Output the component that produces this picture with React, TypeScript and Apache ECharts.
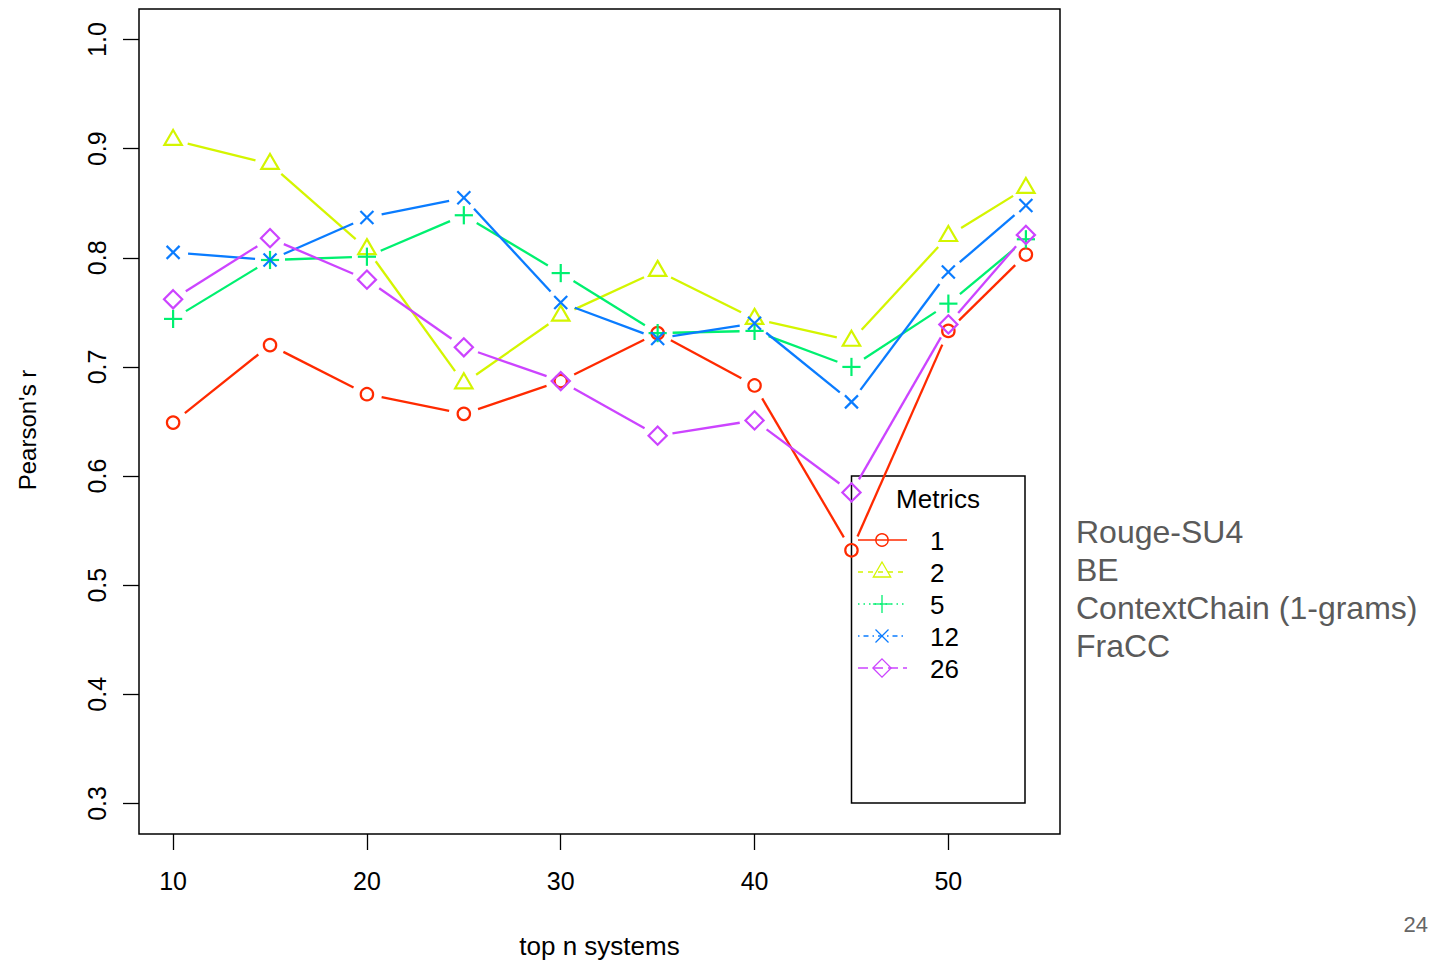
import React, { useEffect, useRef } from "react";
import * as echarts from "echarts";

const xValues = [10, 15, 20, 25, 30, 35, 40, 45, 50, 54];
const metricNames = ["1", "2", "5", "12", "26"];
const m1 = [0.649, 0.72, 0.675, 0.657, 0.687, 0.731, 0.683, 0.532, 0.733, 0.803];
const m2 = [0.908, 0.886, 0.808, 0.685, 0.747, 0.788, 0.744, 0.724, 0.82, 0.864];
const m5 = [0.744, 0.798, 0.801, 0.839, 0.786, 0.731, 0.733, 0.7, 0.758, 0.817];
const m12 = [0.805, 0.798, 0.837, 0.855, 0.759, 0.726, 0.74, 0.668, 0.787, 0.848];
const m26 = [0.762, 0.818, 0.78, 0.718, 0.687, 0.637, 0.651, 0.585, 0.739, 0.821];
const xTicks = [10, 20, 30, 40, 50];
const yTicks = [0.3, 0.4, 0.5, 0.6, 0.7, 0.8, 0.9, 1.0];
const sideLabels = ["Rouge-SU4", "BE", "ContextChain (1-grams)", "FraCC"];
const xTitle = "top n systems";
const yTitle = "Pearson's r";
const legendTitle = "Metrics";
const pageNumber = "24";

const seriesValues = [m1, m2, m5, m12, m26];
const colors = ["#FF2A00", "#D4F500", "#00F070", "#0A7CFF", "#CC44FF"];
const shapes = ["circle", "triangle", "plus", "cross", "diamond"];
const legendDash: (number[] | null)[] = [null, [5, 5], [1.5, 4], [1.5, 4, 5, 4], [10, 5]];

const FONT = "'Liberation Sans', Arial, Helvetica, sans-serif";

function symbolEls(shape: string, cx: number, cy: number, color: string, lw: number): any[] {
  const style = { stroke: color, fill: "none", lineWidth: lw };
  switch (shape) {
    case "circle":
      return [{ type: "circle", shape: { cx, cy, r: 6.2 }, style }];
    case "triangle":
      return [
        {
          type: "polygon",
          shape: { points: [[cx, cy - 10], [cx + 8.7, cy + 5], [cx - 8.7, cy + 5]] },
          style,
        },
      ];
    case "plus":
      return [
        { type: "line", shape: { x1: cx - 9.1, y1: cy, x2: cx + 9.1, y2: cy }, style },
        { type: "line", shape: { x1: cx, y1: cy - 9.1, x2: cx, y2: cy + 9.1 }, style },
      ];
    case "cross":
      return [
        { type: "line", shape: { x1: cx - 6.5, y1: cy - 6.5, x2: cx + 6.5, y2: cy + 6.5 }, style },
        { type: "line", shape: { x1: cx - 6.5, y1: cy + 6.5, x2: cx + 6.5, y2: cy - 6.5 }, style },
      ];
    default:
      return [
        {
          type: "polygon",
          shape: { points: [[cx, cy - 9.1], [cx + 9.1, cy], [cx, cy + 9.1], [cx - 9.1, cy]] },
          style,
        },
      ];
  }
}

const GAP = 15;

function makeSeries(idx: number) {
  const ys = seriesValues[idx];
  const color = colors[idx];
  const shape = shapes[idx];
  const n = xValues.length;
  const data = xValues.map((x, i) => [
    x,
    ys[i],
    i + 1 < n ? xValues[i + 1] : x,
    i + 1 < n ? ys[i + 1] : ys[i],
  ]);
  return {
    type: "custom",
    name: metricNames[idx],
    data,
    dimensions: ["x", "y", "nx", "ny"],
    encode: { x: 0, y: 1 },
    clip: false,
    renderItem: (params: any, api: any) => {
      const p = api.coord([api.value(0), api.value(1)]);
      const q = api.coord([api.value(2), api.value(3)]);
      const children: any[] = [];
      const dx = q[0] - p[0];
      const dy = q[1] - p[1];
      const len = Math.sqrt(dx * dx + dy * dy);
      if (len > 2 * GAP + 1) {
        const ux = dx / len;
        const uy = dy / len;
        children.push({
          type: "line",
          shape: {
            x1: p[0] + ux * GAP,
            y1: p[1] + uy * GAP,
            x2: q[0] - ux * GAP,
            y2: q[1] - uy * GAP,
          },
          style: { stroke: color, lineWidth: 2.3 },
        });
      }
      children.push(...symbolEls(shape, p[0], p[1], color, 2.2));
      return { type: "group", children };
    },
  };
}

function extraGraphics(): any[] {
  const els: any[] = [];
  els.push({
    type: "rect",
    shape: { x: 851.5, y: 476, width: 173.5, height: 327 },
    style: { stroke: "#000", fill: "none", lineWidth: 1.5 },
  });
  els.push({
    type: "text",
    x: 938,
    y: 499,
    style: { text: legendTitle, fontSize: 26, fontFamily: FONT, fill: "#000", align: "center", verticalAlign: "middle" },
  });
  const rows = [540, 572, 604, 636, 668];
  metricNames.forEach((name, i) => {
    const y = rows[i];
    const ls: any = { stroke: colors[i], lineWidth: 1.3 };
    if (legendDash[i]) ls.lineDash = legendDash[i];
    els.push({ type: "line", shape: { x1: 858, y1: y, x2: 907, y2: y }, style: ls });
    els.push(...symbolEls(shapes[i], 882, y, colors[i], 1.3));
    els.push({
      type: "text",
      x: 930,
      y: y + 1,
      style: { text: name, fontSize: 26, fontFamily: FONT, fill: "#000", align: "left", verticalAlign: "middle" },
    });
  });
  const sideY = [532, 569.5, 608, 645.5];
  sideLabels.forEach((t, i) => {
    els.push({
      type: "text",
      x: 1076,
      y: sideY[i],
      style: { text: t, fontSize: 32, fontFamily: FONT, fill: "#5A5A5A", align: "left", verticalAlign: "middle" },
    });
  });
  els.push({
    type: "text",
    x: 1428,
    y: 924,
    style: { text: pageNumber, fontSize: 22, fontFamily: FONT, fill: "#666", align: "right", verticalAlign: "middle" },
  });
  els.push({
    type: "text",
    x: 27,
    y: 430,
    rotation: Math.PI / 2,
    style: { text: yTitle, fontSize: 24, fontFamily: FONT, fill: "#000", align: "center", verticalAlign: "middle" },
  });
  return els;
}

export default function App() {
  const ref = useRef<HTMLDivElement>(null);
  useEffect(() => {
    if (!ref.current) return;
    const chart = echarts.init(ref.current, null, { renderer: "svg" });
    const option: any = {
      animation: false,
      backgroundColor: "#fff",
      grid: {
        left: 139,
        right: 375,
        top: 9,
        bottom: 132,
        show: true,
        borderColor: "#000",
        borderWidth: 1.5,
        backgroundColor: "transparent",
      },
      xAxis: {
        type: "value",
        min: 8.24,
        max: 55.76,
        axisLine: { show: false },
        splitLine: { show: false },
        axisTick: {
          show: true,
          customValues: xTicks,
          length: 16,
          lineStyle: { color: "#000", width: 1.3 },
        },
        axisLabel: {
          customValues: xTicks,
          margin: 34,
          fontSize: 25,
          fontFamily: FONT,
          color: "#000",
        },
        name: xTitle,
        nameLocation: "middle",
        nameGap: 99,
        nameTextStyle: { fontSize: 26, fontFamily: FONT, color: "#000" },
      },
      yAxis: {
        type: "value",
        min: 0.272,
        max: 1.028,
        axisLine: { show: false },
        splitLine: { show: false },
        axisTick: {
          show: true,
          customValues: yTicks,
          length: 16,
          lineStyle: { color: "#000", width: 1.3 },
        },
        axisLabel: {
          customValues: yTicks,
          rotate: 90,
          margin: 30,
          fontSize: 25,
          fontFamily: FONT,
          color: "#000",
          formatter: (v: number) => v.toFixed(1),
        },
      },
      series: metricNames.map((_, i) => makeSeries(i)),
      graphic: extraGraphics(),
    };
    chart.setOption(option);
    return () => chart.dispose();
  }, []);
  return (
    <div
      ref={ref}
      style={{ position: "absolute", left: 0, top: 0, width: 1435, height: 966, background: "#fff" }}
    />
  );
}
